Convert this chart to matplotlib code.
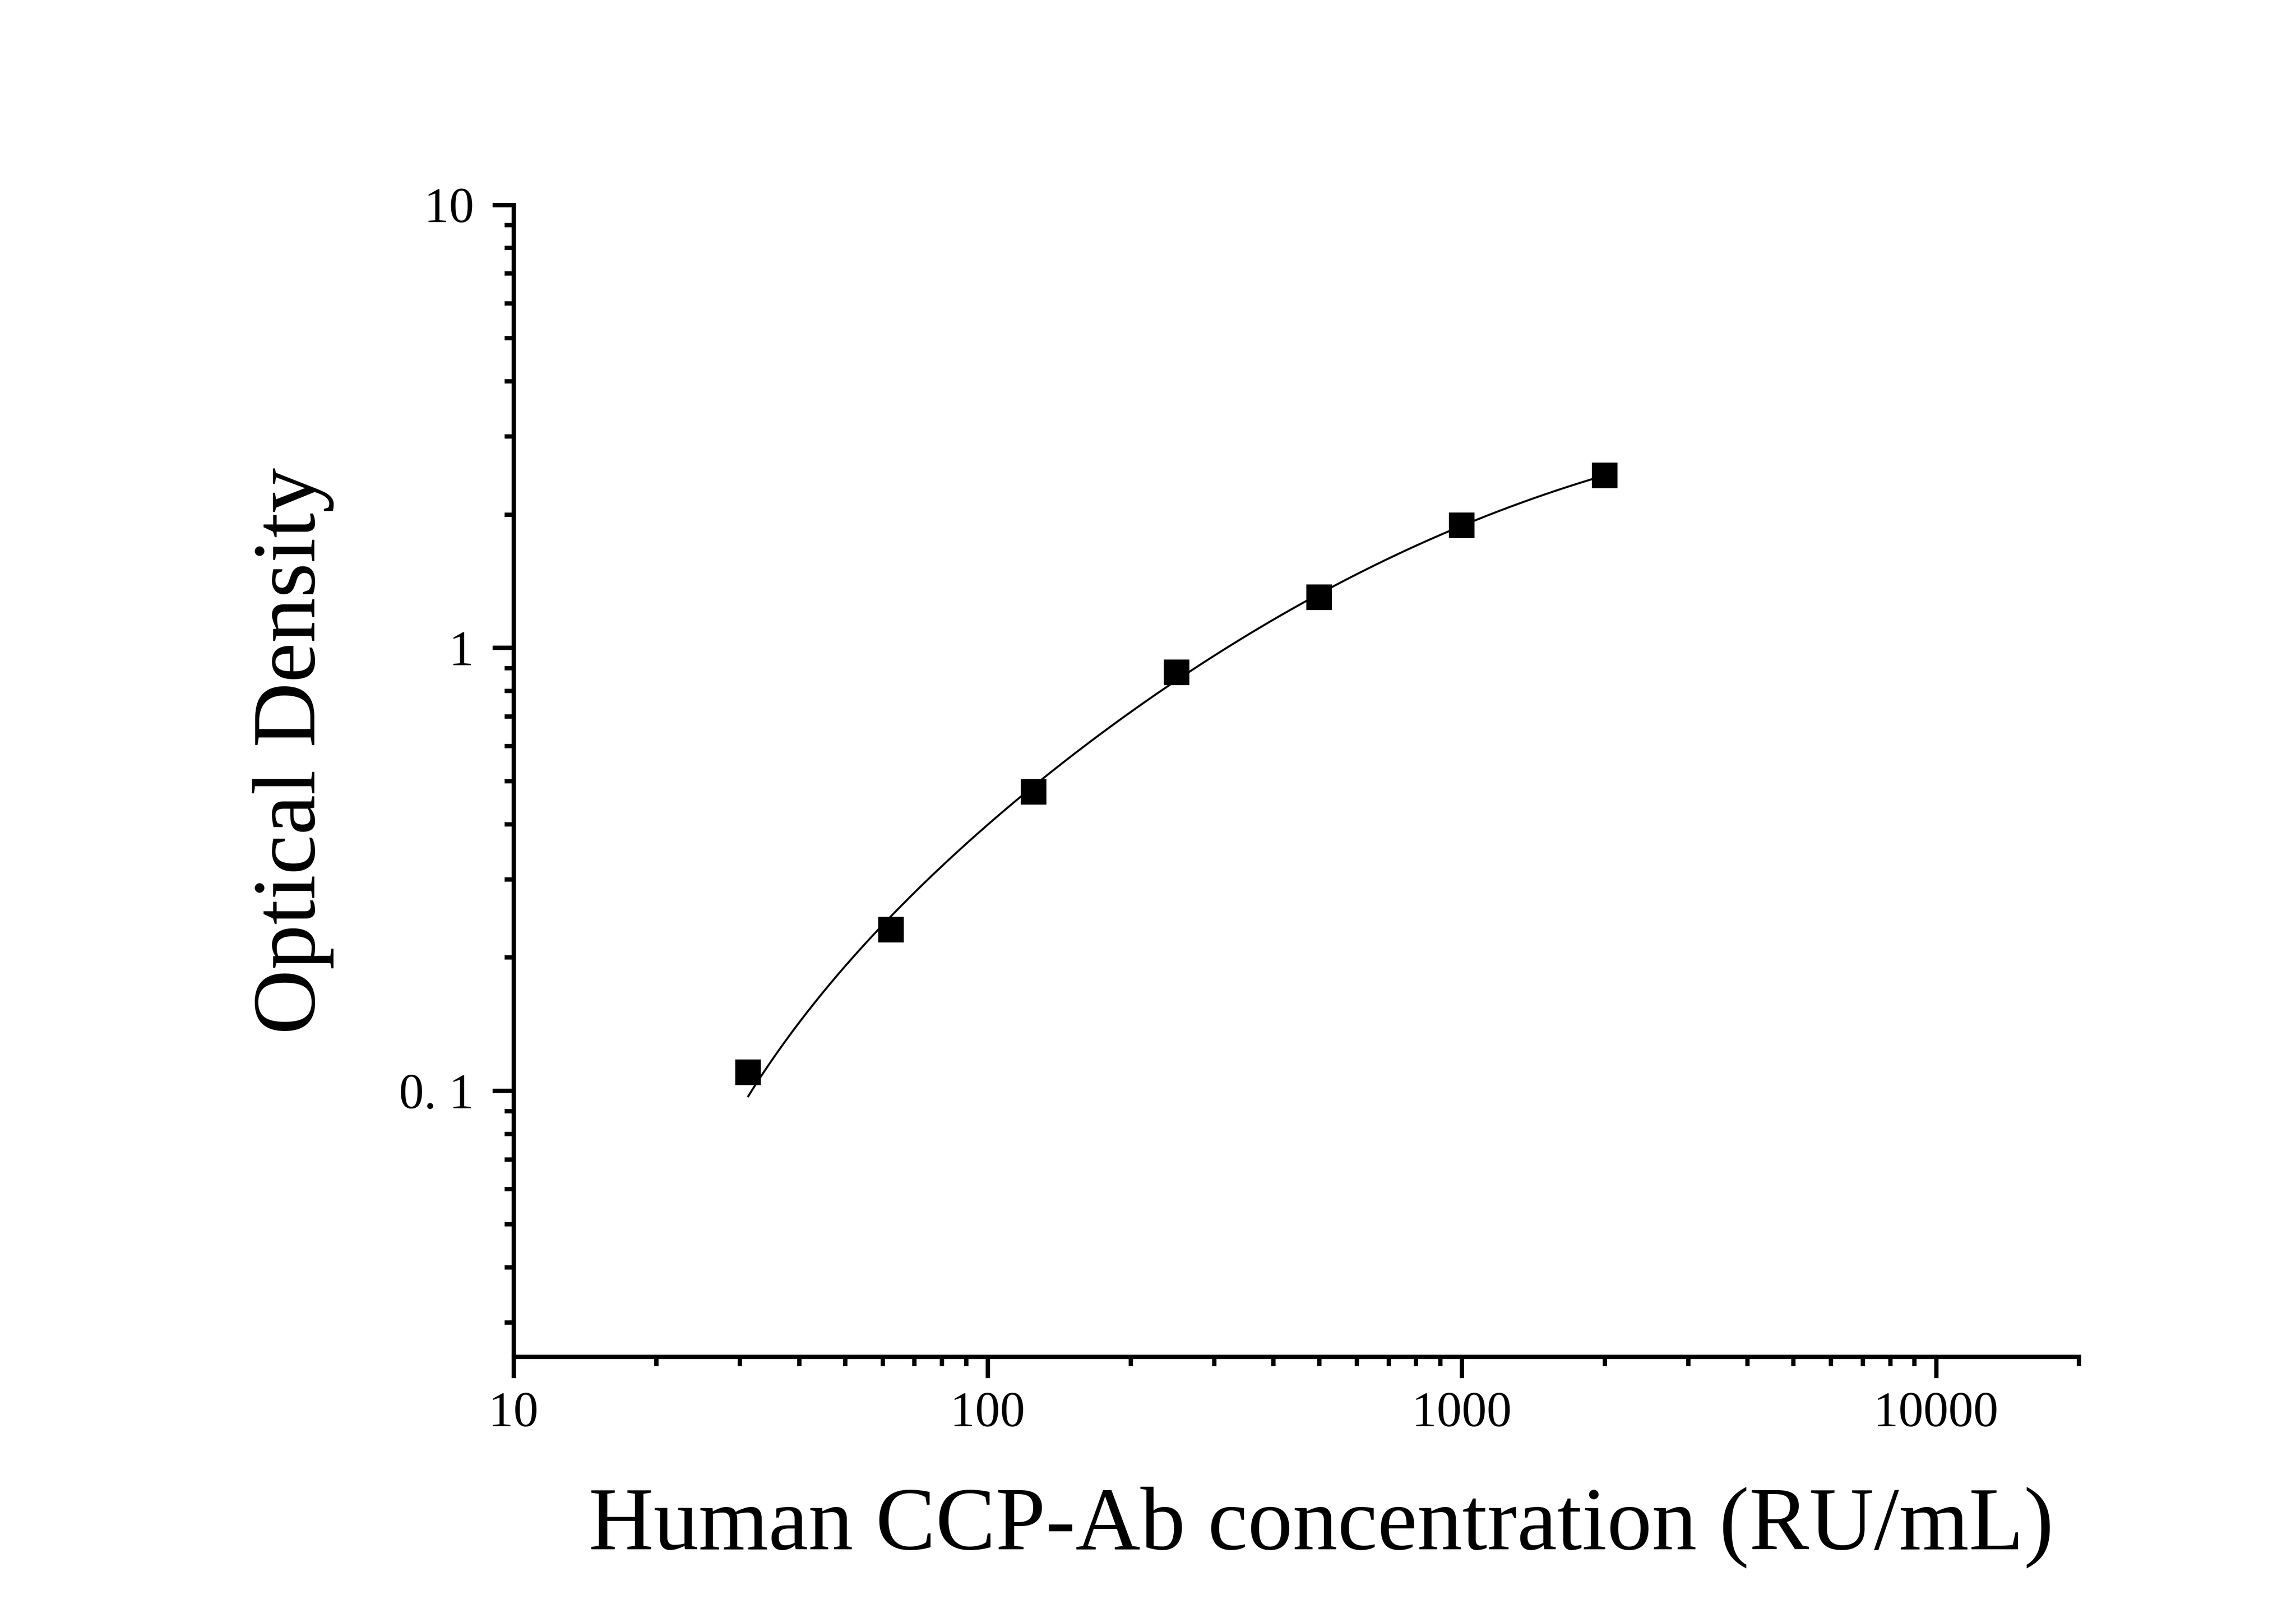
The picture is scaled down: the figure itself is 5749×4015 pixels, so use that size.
import numpy as np
import matplotlib
matplotlib.use("Agg")
import matplotlib.pyplot as plt
from matplotlib.ticker import LogLocator, NullFormatter

# ---- data ----
concentration = [31.25, 62.5, 125, 250, 500, 1000, 2000]
optical_density = [0.110, 0.231, 0.473, 0.880, 1.30, 1.89, 2.45]
x_ticks = [10, 100, 1000, 10000]
x_tick_labels = ["10", "100", "1000", "10000"]
y_ticks = [0.1, 1, 10]
y_tick_labels = ["0. 1", "1", "10"]
x_label = "Human CCP-Ab concentration (RU/mL)"
y_label = "Optical Density"

x = np.array(concentration, dtype=float)
y = np.array(optical_density, dtype=float)


# ---- four-parameter logistic fit (Levenberg-Marquardt, numpy only) ----
def model(p, xx):
    a, b, lc, d = p
    return d + (a - d) / (1.0 + (xx / np.exp(lc)) ** b)


def fit_4pl(xx, yy):
    p = np.array([0.0, 1.0, np.log(1000.0), 5.0])
    lam = 1e-2
    def sse(pp):
        r = yy - model(pp, xx)
        return float(np.sum(r * r))
    cur = sse(p)
    for _ in range(500):
        r = yy - model(p, xx)
        J = np.zeros((len(xx), 4))
        for k in range(4):
            dp = np.zeros(4)
            h = 1e-6 * max(1.0, abs(p[k]))
            dp[k] = h
            J[:, k] = (model(p + dp, xx) - model(p - dp, xx)) / (2 * h)
        A = J.T @ J
        g = J.T @ r
        step = np.linalg.solve(A + lam * np.diag(np.diag(A) + 1e-12), g)
        newp = p + step
        new = sse(newp) if np.all(np.isfinite(model(newp, xx))) else np.inf
        if new < cur:
            p, cur = newp, new
            lam *= 0.3
        else:
            lam *= 5
        if lam > 1e12:
            break
    return p


try:
    params = fit_4pl(x, y)
    xf = np.logspace(np.log10(x.min()), np.log10(x.max()), 300)
    yf = model(params, xf)
    if not np.all(np.isfinite(yf)) or np.any(yf <= 0):
        raise ValueError
except Exception:
    coef = np.polyfit(np.log10(x), np.log10(y), 2)
    xf = np.logspace(np.log10(x.min()), np.log10(x.max()), 300)
    yf = 10 ** np.polyval(coef, np.log10(xf))

# ---- figure ----
W, H, DPI = 5749, 4015, 600
fig = plt.figure(figsize=(W / DPI, H / DPI), dpi=DPI)
fig.patch.set_facecolor("white")
ax = fig.add_axes([1286 / W, 1 - 3396 / H, (5205 - 1286) / W, (3396 - 512.5) / H])

serif = ["Liberation Serif", "DejaVu Serif"]

ax.plot(xf, yf, color="black", lw=0.6, zorder=2)
ax.plot(x, y, linestyle="none", marker="s", markersize=7.2, markeredgewidth=0.5,
        color="black", zorder=3)

ax.set_xscale("log")
ax.set_yscale("log")
ax.set_xlim(10, 20000)
ax.set_ylim(0.0251, 10)

for side in ("top", "right"):
    ax.spines[side].set_visible(False)
for side in ("left", "bottom"):
    ax.spines[side].set_linewidth(1.3)

ax.set_xticks(x_ticks, x_tick_labels)
ax.set_yticks(y_ticks, y_tick_labels)
ax.xaxis.set_minor_locator(LogLocator(base=10, subs=np.arange(2, 10), numticks=20))
ax.yaxis.set_minor_locator(LogLocator(base=10, subs=np.arange(2, 10), numticks=20))
ax.xaxis.set_minor_formatter(NullFormatter())
ax.yaxis.set_minor_formatter(NullFormatter())

ax.tick_params(axis="both", which="major", direction="out", length=6.4, width=1.3,
               labelsize=15, color="black")
ax.tick_params(axis="both", which="minor", direction="out", length=2.75, width=1.3,
               color="black")
ax.tick_params(axis="x", which="major", pad=4)
ax.tick_params(axis="y", which="major", pad=5.5)
for lab in ax.get_xticklabels() + ax.get_yticklabels():
    lab.set_fontfamily(serif)

fig.text(3308 / W, 1 - 3878 / H, x_label, ha="center", va="baseline",
         fontsize=27, family=serif)
fig.text(788 / W, 1 - 1880 / H, y_label, ha="center", va="baseline",
         rotation=90, rotation_mode="anchor", fontsize=27, family=serif)

fig.savefig("out.png", dpi=DPI, facecolor="white")
